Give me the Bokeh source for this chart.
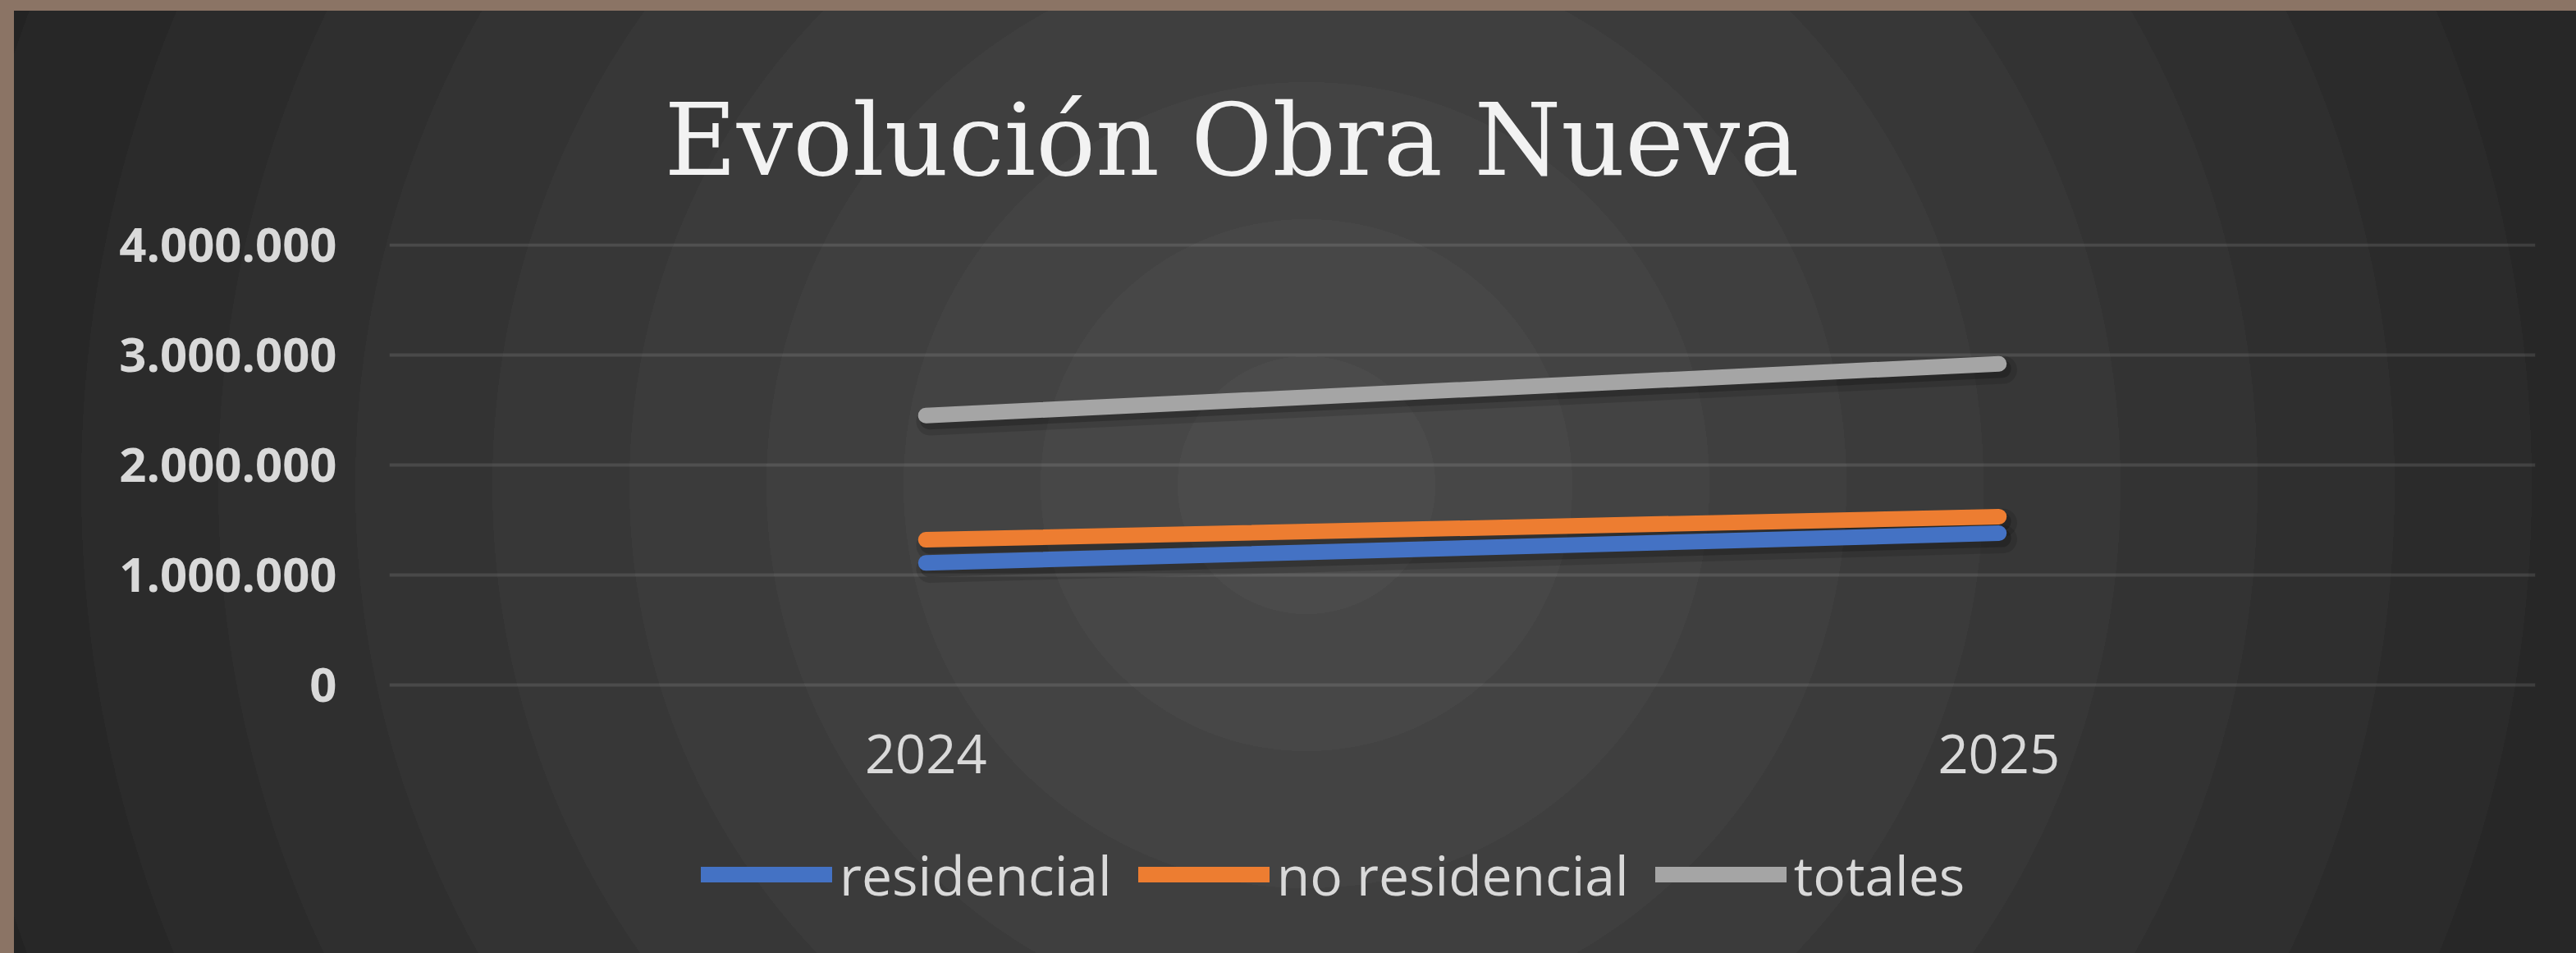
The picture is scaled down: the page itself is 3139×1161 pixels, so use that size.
from bokeh.plotting import figure
from bokeh.models import FactorRange, Range1d, Legend, LegendItem, FixedTicker, ColumnDataSource
from bokeh.transform import dodge
from bokeh.embed import file_html
from bokeh.resources import INLINE

# ---- data ----
years = ["2024", "2025"]
residencial = [1110000, 1380000]
no_residencial = [1320000, 1530000]
totales = [2450000, 2920000]
series_names = ["residencial", "no residencial", "totales"]
y_ticks = [0, 1000000, 2000000, 3000000, 4000000]
y_tick_labels = ["0", "1.000.000", "2.000.000", "3.000.000", "4.000.000"]
title_text = "Evolución Obra Nueva"

colors = ["#4472C4", "#ED7D31", "#A5A5A5"]

# ---- layout (pixels) ----
W, H = 3139, 1161
frame_left, frame_right = 474, 3089
frame_top, frame_bottom = 296, 1151       # frame reaches down so the legend fits inside
zero_px = 834                             # where the value 0 sits
px_per_unit = 134 / 1_000_000
y_end = 4_000_000 + 2 / px_per_unit
y_start = -(frame_bottom - zero_px) / px_per_unit

# stepped radial background like the reference
cx, cy = 1592, 591
band = 167
first = 157
stops = []
r0 = 0
for k in range(14):
    r1 = first + band * k
    c = max(0x1e, 0x4b - 4 * k)
    hexc = "#%02x%02x%02x" % (c, c, c)
    stops.append(f"{hexc} {r0}px {r1}px")
    r0 = r1
bg = f"radial-gradient(circle at {cx}px {cy}px, " + ", ".join(stops) + ")"

p = figure(
    width=W, height=H,
    x_range=FactorRange(factors=years, range_padding=0),
    y_range=Range1d(y_start, y_end),
    output_backend="svg", toolbar_location=None,
    min_border_left=frame_left, min_border_right=W - frame_right,
    min_border_top=frame_top, min_border_bottom=H - frame_bottom,
)
p.styles = {"background": bg, "box-shadow": "inset 17px 13px 0 0 #8b7465"}
p.border_fill_color = None
p.background_fill_color = None
p.outline_line_color = None

p.title.text = title_text
p.title.text_font = "DejaVu Serif"
p.title.text_font_size = "121px"
p.title.text_font_style = "normal"
p.title.text_color = "#f2f2f2"
p.title.align = "left"
p.title.offset = 335
p.title.standoff = 109

# axes
p.yaxis.ticker = FixedTicker(ticks=y_ticks)
p.yaxis.major_label_overrides = {t: l for t, l in zip(y_ticks, y_tick_labels)}
p.yaxis.major_label_text_font = "Open Sans"
p.yaxis.major_label_text_font_style = "bold"
p.yaxis.major_label_text_font_size = "58px"
p.yaxis.major_label_text_color = "#d9d9d9"
p.yaxis.major_label_standoff = 64
p.yaxis.axis_line_color = None
p.yaxis.major_tick_line_color = None
p.yaxis.minor_tick_line_color = None
p.yaxis.major_tick_out = 0

p.xaxis.fixed_location = 0
p.xaxis.major_label_text_font = "Open Sans"
p.xaxis.major_label_text_font_size = "65px"
p.xaxis.major_label_text_color = "#d9d9d9"
p.xaxis.major_label_standoff = 60
p.xaxis.axis_line_color = None
p.xaxis.major_tick_line_color = None
p.xaxis.minor_tick_line_color = None
p.xaxis.major_tick_out = 0

p.xgrid.grid_line_color = None
p.ygrid.ticker = FixedTicker(ticks=y_ticks)
p.ygrid.grid_line_color = "#ffffff"
p.ygrid.grid_line_alpha = 0.11
p.ygrid.grid_line_width = 4

src = ColumnDataSource(dict(year=years, res=residencial, nores=no_residencial, tot=totales))
fields = ["res", "nores", "tot"]

# soft drop shadows
for field in fields:
    p.line(x=dodge("year", 0.004, range=p.x_range), y=dodge(field, -55000, range=p.y_range),
           source=src, line_color="black", line_alpha=0.12, line_width=34, line_cap="round")
    p.line(x=dodge("year", 0.003, range=p.x_range), y=dodge(field, -45000, range=p.y_range),
           source=src, line_color="black", line_alpha=0.2, line_width=22, line_cap="round")

renderers = []
for field, col in zip(fields, colors):
    r = p.line(x="year", y=field, source=src, line_color=col, line_width=19, line_cap="round")
    renderers.append(r)

legend = Legend(
    items=[LegendItem(label=n, renderers=[r]) for n, r in zip(series_names, renderers)],
    orientation="horizontal",
    location=(380, 41),
    padding=0, margin=0, spacing=32,
    glyph_width=160, glyph_height=20, label_standoff=9,
    label_text_font="Open Sans", label_text_font_size="66px", label_text_color="#d9d9d9",
    border_line_color=None, background_fill_color=None, background_fill_alpha=0,
)
p.add_layout(legend, "center")

open("out.html", "w").write(file_html(p, INLINE))
